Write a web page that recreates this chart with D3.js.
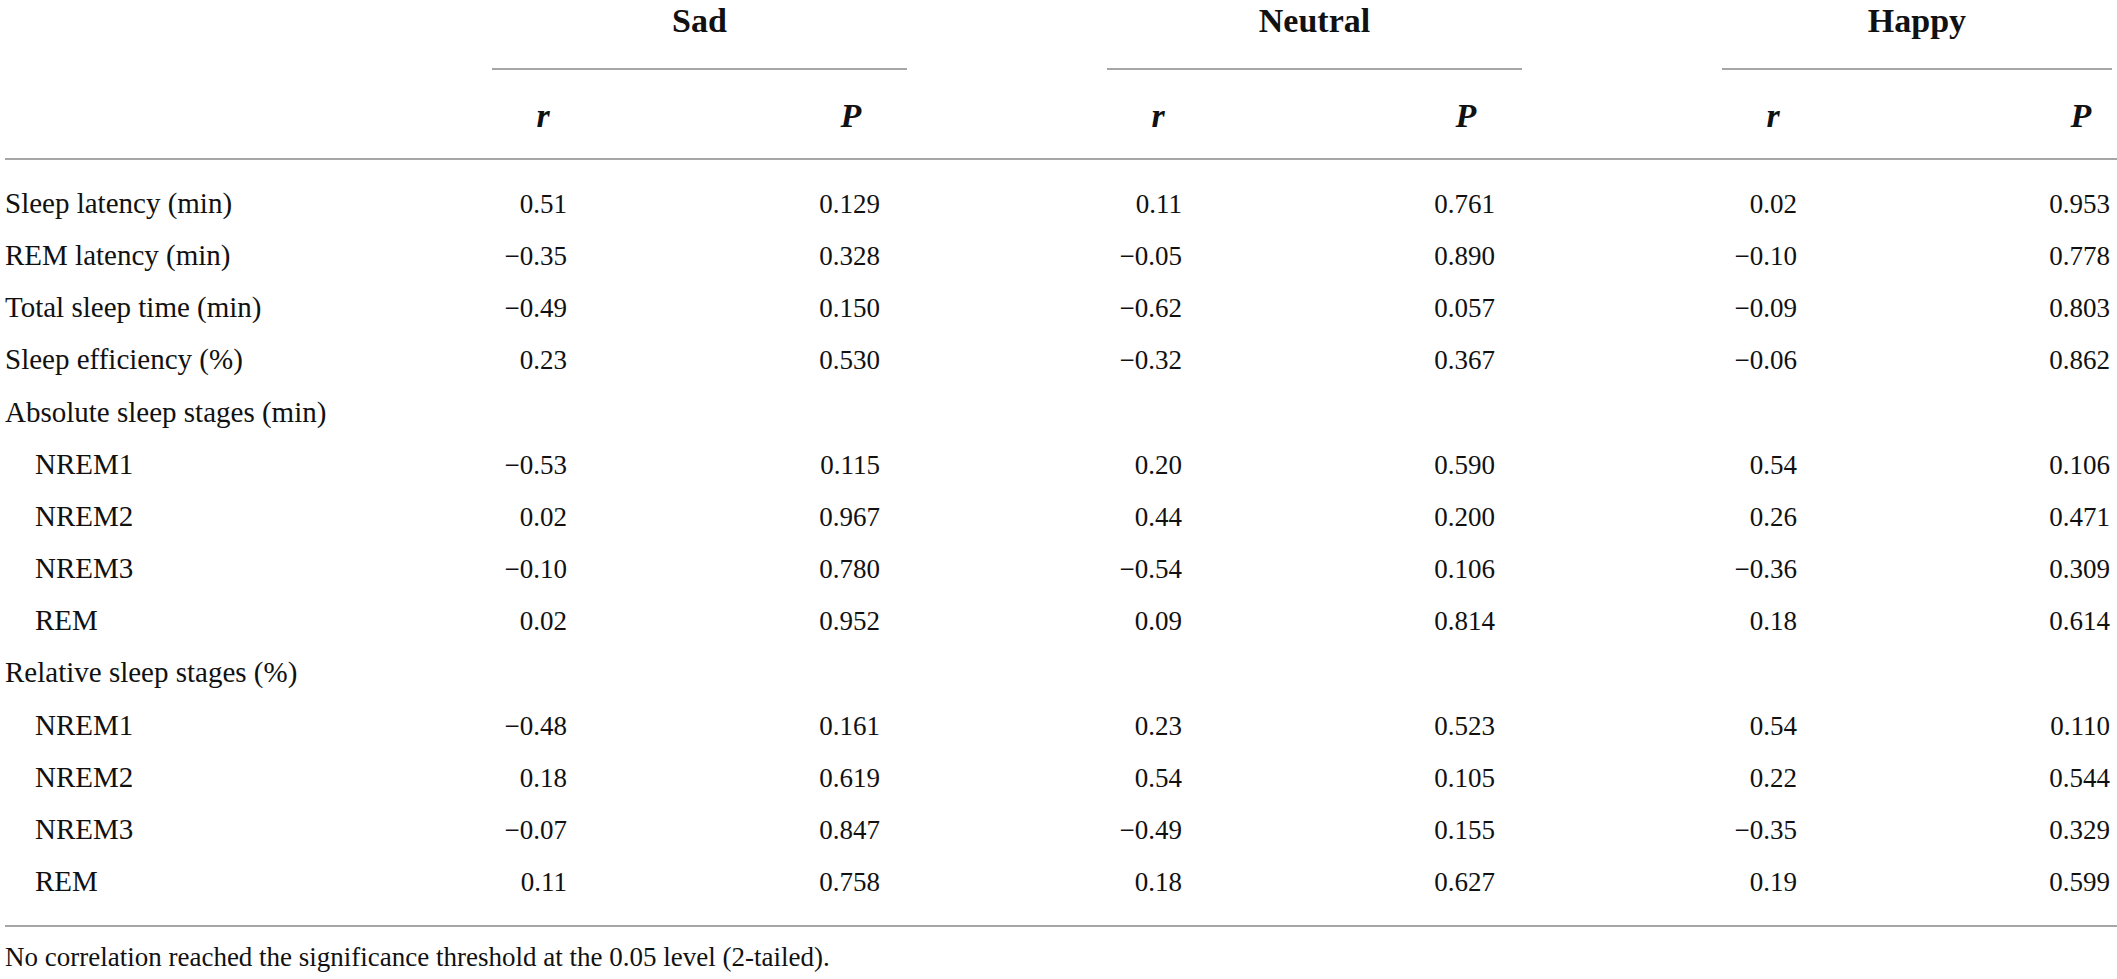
<!DOCTYPE html>
<html>
<head>
<meta charset="utf-8">
<script src="https://cdn.jsdelivr.net/npm/d3@7"></script>
<style>
  html, body { margin: 0; padding: 0; background: #fff; }
  svg { display: block; }
  text { font-family: "Liberation Serif", "Times New Roman", serif; fill: #111; }
</style>
</head>
<body>
<svg id="chart" width="2117" height="979"></svg>
<script>
// ---- data ----
const groups = ["Sad", "Neutral", "Happy"];
const subHeaders = ["r", "P"];
const rowLabels = [
  "Sleep latency (min)", "REM latency (min)", "Total sleep time (min)", "Sleep efficiency (%)",
  "Absolute sleep stages (min)", "NREM1", "NREM2", "NREM3", "REM",
  "Relative sleep stages (%)", "NREM1", "NREM2", "NREM3", "REM"
];
const rowIndent = [0,0,0,0, 0,1,1,1,1, 0,1,1,1,1];
const sadR     = [0.51, -0.35, -0.49, 0.23, null, -0.53, 0.02, -0.10, 0.02, null, -0.48, 0.18, -0.07, 0.11];
const sadP     = [0.129, 0.328, 0.150, 0.530, null, 0.115, 0.967, 0.780, 0.952, null, 0.161, 0.619, 0.847, 0.758];
const neutralR = [0.11, -0.05, -0.62, -0.32, null, 0.20, 0.44, -0.54, 0.09, null, 0.23, 0.54, -0.49, 0.18];
const neutralP = [0.761, 0.890, 0.057, 0.367, null, 0.590, 0.200, 0.106, 0.814, null, 0.523, 0.105, 0.155, 0.627];
const happyR   = [0.02, -0.10, -0.09, -0.06, null, 0.54, 0.26, -0.36, 0.18, null, 0.54, 0.22, -0.35, 0.19];
const happyP   = [0.953, 0.778, 0.803, 0.862, null, 0.106, 0.471, 0.309, 0.614, null, 0.110, 0.544, 0.329, 0.599];
const footnote = "No correlation reached the significance threshold at the 0.05 level (2-tailed).";

const seriesR = { Sad: sadR, Neutral: neutralR, Happy: happyR };
const seriesP = { Sad: sadP, Neutral: neutralP, Happy: happyP };

// ---- layout ----
const W = 2117, H = 979;
const svg = d3.select("#chart");
svg.append("rect").attr("width", W).attr("height", H).attr("fill", "#fff");

const bodySize = 27, labelSize = 29, headSize = 34;
const lineColor = "#a6a6a6";

// row baselines
const y = d3.scalePoint().domain(d3.range(rowLabels.length)).range([213, 891]);
// group offsets
const gx = d3.scalePoint().domain(groups).range([0, 1230]);

const fmtR = v => v == null ? "" : d3.format(".2f")(v).replace("-", "\u2212");
const fmtP = v => v == null ? "" : d3.format(".3f")(v);

// group headers + underlines
groups.forEach(g => {
  const off = gx(g);
  const x0 = 492 + off, x1 = Math.min(907 + off, 2112);
  svg.append("line").attr("x1", x0).attr("x2", x1).attr("y1", 69).attr("y2", 69)
    .attr("stroke", lineColor).attr("stroke-width", 2);
  svg.append("text").attr("x", (x0 + x1) / 2).attr("y", 32)
    .attr("text-anchor", "middle").attr("font-weight", "bold").attr("font-size", headSize)
    .text(g);
  svg.append("text").attr("x", 543 + off).attr("y", 127)
    .attr("text-anchor", "middle").attr("font-weight", "bold").attr("font-style", "italic")
    .attr("font-size", headSize).text(subHeaders[0]);
  svg.append("text").attr("x", 851 + off).attr("y", 127)
    .attr("text-anchor", "middle").attr("font-weight", "bold").attr("font-style", "italic")
    .attr("font-size", headSize).text(subHeaders[1]);
});

// horizontal rules
[159, 926].forEach(yy => {
  svg.append("line").attr("x1", 5).attr("x2", W).attr("y1", yy).attr("y2", yy)
    .attr("stroke", lineColor).attr("stroke-width", 2);
});

// row labels
svg.append("g").selectAll("text").data(rowLabels).join("text")
  .attr("x", (d, i) => rowIndent[i] ? 35 : 5)
  .attr("y", (d, i) => y(i))
  .attr("font-size", labelSize)
  .text(d => d);

// values
groups.forEach(g => {
  const off = gx(g);
  svg.append("g").selectAll("text").data(seriesR[g]).join("text")
    .attr("x", 567 + off).attr("y", (d, i) => y(i))
    .attr("text-anchor", "end").attr("font-size", bodySize)
    .text(fmtR);
  svg.append("g").selectAll("text").data(seriesP[g]).join("text")
    .attr("x", 880 + off).attr("y", (d, i) => y(i))
    .attr("text-anchor", "end").attr("font-size", bodySize)
    .text(fmtP);
});

// footnote
svg.append("text").attr("x", 5).attr("y", 966).attr("font-size", bodySize).text(footnote);
</script>
</body>
</html>
